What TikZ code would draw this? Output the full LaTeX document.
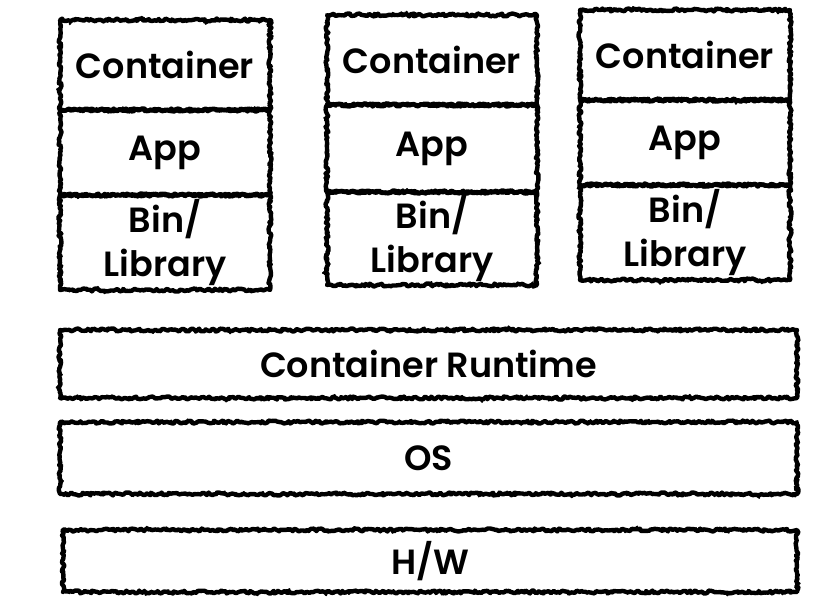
\documentclass[tikz,border=0pt]{standalone}
\usepackage{fontspec}
\setmainfont{Poppins}[BoldFont={* SemiBold}]
\usetikzlibrary{decorations.pathmorphing}
\tikzset{
  rough/.style={draw=black, line width=4.4pt, line join=round, line cap=round, decorate,
    decoration={random steps, segment length=2pt, amplitude=1.5pt},
    postaction={draw=black, line width=1.6pt, line join=round, line cap=round, decorate,
      decoration={random steps, segment length=2.6pt, amplitude=2.8pt}}},
  cell/.style={rough, rectangle, minimum width=210pt, align=center, inner sep=0pt,
    font=\fontsize{35}{44}\selectfont\bfseries},
  bar/.style={rough, rectangle, inner sep=0pt,
    font=\fontsize{35}{44}\selectfont\bfseries}
}
\begin{document}
\pgfmathsetseed{7}
\begin{tikzpicture}[x=1pt,y=-1pt]
\useasboundingbox (0,0) rectangle (822,614);
% stack 1
\node[cell, minimum height=90pt] (c1) at (165,65) {Container};
\node[cell, minimum height=85pt] (a1) at (165,152.5) {App};
\node[cell, minimum height=95pt] (b1) at (165,242.5) {Bin/\\Library};
% stack 2
\node[cell, minimum height=90pt] (c2) at (432,60) {Container};
\node[cell, minimum height=87pt] (a2) at (432,148.5) {App};
\node[cell, minimum height=93pt] (b2) at (432,238.5) {Bin/\\Library};
% stack 3
\node[cell, minimum height=90pt] (c3) at (685,55) {Container};
\node[cell, minimum height=85pt] (a3) at (685,142.5) {App};
\node[cell, minimum height=95pt] (b3) at (685,232.5) {Bin/\\Library};
% bars
\node[bar, minimum width=737pt, minimum height=68pt] (rt) at (428.5,364) {Container Runtime};
\node[bar, minimum width=737pt, minimum height=72pt] (os) at (428.5,458) {OS};
\node[bar, minimum width=734pt, minimum height=62pt] (hw) at (430,561) {H/W};
\end{tikzpicture}
\end{document}
